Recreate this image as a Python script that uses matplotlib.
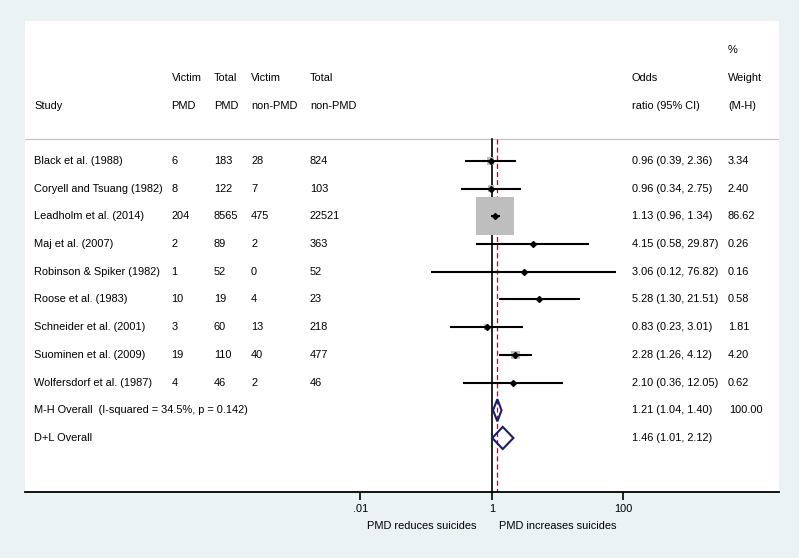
import numpy as np
import matplotlib
matplotlib.use("Agg")
from matplotlib import pyplot as plt
from matplotlib.patches import Polygon
import matplotlib.transforms as mtransforms

plt.rcParams['font.family'] = ['Liberation Sans', 'DejaVu Sans']

# study level data
studies = ["Black et al. (1988)", "Coryell and Tsuang (1982)", "Leadholm et al. (2014)",
           "Maj et al. (2007)", "Robinson & Spiker (1982)", "Roose et al. (1983)",
           "Schneider et al. (2001)", "Suominen et al. (2009)", "Wolfersdorf et al. (1987)"]
victim_pmd = [6, 8, 204, 2, 1, 10, 3, 19, 4]
total_pmd = [183, 122, 8565, 89, 52, 19, 60, 110, 46]
victim_non = [28, 7, 475, 2, 0, 4, 13, 40, 2]
total_non = [824, 103, 22521, 363, 52, 23, 218, 477, 46]
odds = [0.96, 0.96, 1.13, 4.15, 3.06, 5.28, 0.83, 2.28, 2.10]
ci_lo = [0.39, 0.34, 0.96, 0.58, 0.12, 1.30, 0.23, 1.26, 0.36]
ci_hi = [2.36, 2.75, 1.34, 29.87, 76.82, 21.51, 3.01, 4.12, 12.05]
weight = [3.34, 2.40, 86.62, 0.26, 0.16, 0.58, 1.81, 4.20, 0.62]

# pooled estimates
pooled_labels = ["M-H Overall  (I-squared = 34.5%, p = 0.142)", "D+L Overall"]
pooled_or = [1.21, 1.46]
pooled_lo = [1.04, 1.01]
pooled_hi = [1.40, 2.12]
pooled_w = ["100.00", ""]

xticks = [0.01, 1, 100]
xticklabels = [".01", "1", "100"]

BG = "#eaf2f3"
NAVY = "#1c1c6c"
RED = "#8b1a2a"

fig = plt.figure(figsize=(7.99, 5.58), dpi=100, facecolor=BG)
W, H = 799, 558
ax = fig.add_axes([25 / W, (H - 492) / H, 754 / W, 471 / H])
ax.set_facecolor("white")
ax.set_xscale("log")
ax.set_xlim(10 ** -7.10, 10 ** 4.365)
ax.set_ylim(11.95, -5.05)

for s in ["top", "left", "right"]:
    ax.spines[s].set_visible(False)
ax.spines["bottom"].set_linewidth(1.3)
ax.set_yticks([])
ax.set_xticks(xticks)
ax.set_xticklabels(xticklabels, fontsize=7.9)
ax.minorticks_off()
ax.tick_params(axis="x", direction="out", length=5.5, width=1.2, pad=3)

nrow = len(studies)
rows = np.arange(nrow)
line_top = -0.79

# header separator and reference lines
ax.axhline(line_top, color="#c4c4c4", lw=0.9, zorder=1)
ax.plot([1, 1], [line_top, 11.95], color="black", lw=1.2, zorder=2)
ax.plot([pooled_or[0]] * 2, [line_top, 11.95], color=RED, lw=0.9,
        ls=(0, (4, 2.5)), zorder=2)

# weight squares, CI lines, point estimates
side_px = 38 * np.sqrt(np.array(weight) / max(weight))
side_pt = side_px * 72 / 100
ax.scatter(odds, rows, s=side_pt ** 2, marker="s", color="#bebebe",
           edgecolors="none", zorder=3)
ax.hlines(rows, ci_lo, ci_hi, color="black", lw=1.5, zorder=4)
ax.plot(odds, rows, ls="none", marker="D", ms=3.0, color="black", zorder=5)

# pooled diamonds
for i, (o, l, h) in enumerate(zip(pooled_or, pooled_lo, pooled_hi)):
    r = nrow + i
    d = 0.4
    ax.add_patch(Polygon([(l, r), (o, r - d), (h, r), (o, r + d)], closed=True,
                         fill=False, edgecolor=NAVY, lw=1.5, zorder=6))

# table text
trans = mtransforms.blended_transform_factory(ax.transAxes, ax.transData)
def col(px):
    return (px - 25) / 754

fs = 7.9
cols = [34, 171.5, 214, 251, 310, 631.7, 728]
headers = [
    ["", "", "", "", "", "", "%"],
    ["", "Victim", "Total", "Victim", "Total", "Odds", "Weight"],
    ["Study", "PMD", "PMD", "non-PMD", "non-PMD", "ratio (95% CI)", "(M-H)"],
]
for j, hrow in enumerate(headers):
    for c, t in zip(cols, hrow):
        if t:
            ax.text(col(c), -4 + j, t, transform=trans, fontsize=fs, va="center")

for i in range(nrow):
    vals = [studies[i], str(victim_pmd[i]), str(total_pmd[i]), str(victim_non[i]),
            str(total_non[i]), f"{odds[i]:.2f} ({ci_lo[i]:.2f}, {ci_hi[i]:.2f})",
            f"{weight[i]:.2f}"]
    for c, t in zip(cols, vals):
        ax.text(col(c), i, t, transform=trans, fontsize=fs, va="center")

for i in range(len(pooled_or)):
    r = nrow + i
    ax.text(col(cols[0]), r, pooled_labels[i], transform=trans, fontsize=fs, va="center")
    ax.text(col(cols[5]), r, f"{pooled_or[i]:.2f} ({pooled_lo[i]:.2f}, {pooled_hi[i]:.2f})",
            transform=trans, fontsize=fs, va="center")
    if pooled_w[i]:
        ax.text(col(729), r, pooled_w[i], transform=trans, fontsize=fs, va="center")

# direction labels under the axis
ax.annotate("PMD reduces suicides", xy=(1, 0), xycoords=("data", "axes fraction"),
            xytext=(-10.8, -24.5), textcoords="offset points", ha="right", va="center",
            fontsize=fs)
ax.annotate("PMD increases suicides", xy=(1, 0), xycoords=("data", "axes fraction"),
            xytext=(5, -24.5), textcoords="offset points", ha="left", va="center",
            fontsize=fs)

fig.savefig("out.png", dpi=100, facecolor=BG)
